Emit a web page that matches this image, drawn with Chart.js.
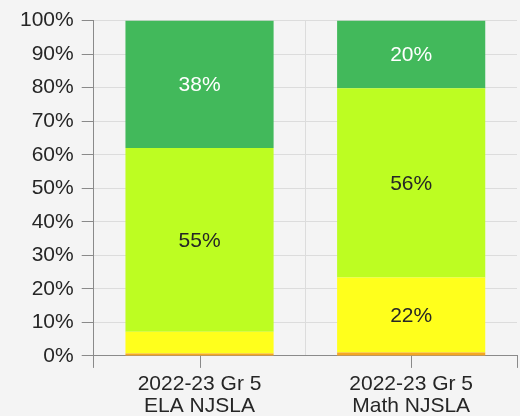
<!DOCTYPE html>
<html>
<head>
<meta charset="utf-8">
<script src="https://cdn.jsdelivr.net/npm/chart.js@4"></script>
<style>
  html, body { margin: 0; padding: 0; background: #f4f4f4; }
  #wrap { width: 520px; height: 416px; position: relative; }
</style>
</head>
<body>
<div id="wrap"><canvas id="c"></canvas></div>
<script>
const categories = [['2022-23 Gr 5', 'ELA NJSLA'], ['2022-23 Gr 5', 'Math NJSLA']];
const level1 = [0.7, 1.0];    // orange (bottom)
const level2 = [6.5, 22.4];   // yellow
const level3 = [54.8, 56.4];  // yellow-green
const level4 = [38.0, 20.2];  // green (top)
const yTicks = [0, 10, 20, 30, 40, 50, 60, 70, 80, 90, 100];

const FONT = "'Liberation Sans', Arial, sans-serif";
const TEXT = '#262626';
const AXIS = '#8a8a8a';
const GRID = '#dcdcdc';

const labelPlugin = {
  id: 'segLabels',
  afterDatasetsDraw(chart) {
    const ctx = chart.ctx;
    ctx.save();
    ctx.font = '21px ' + FONT;
    ctx.textAlign = 'center';
    ctx.textBaseline = 'middle';
    chart.data.datasets.forEach((ds, di) => {
      const meta = chart.getDatasetMeta(di);
      meta.data.forEach((bar, i) => {
        const v = ds.data[i];
        if (v < 10) return;
        const top = Math.min(bar.y, bar.base), bot = Math.max(bar.y, bar.base);
        ctx.fillStyle = ds.labelColor;
        ctx.fillText(Math.round(v) + '%', bar.x, (top + bot) / 2 + 1);
      });
    });
    ctx.restore();
  }
};

const centerTicks = {
  id: 'centerTicks',
  afterDraw(chart) {
    const sx = chart.scales.x;
    const ctx = chart.ctx;
    ctx.save();
    ctx.strokeStyle = AXIS;
    ctx.lineWidth = 1;
    sx.ticks.forEach((t, i) => {
      const x = Math.round(sx.getPixelForTick(i)) + 0.5;
      ctx.beginPath();
      ctx.moveTo(x, sx.top);
      ctx.lineTo(x, sx.top + 12);
      ctx.stroke();
    });
    ctx.restore();
  }
};

new Chart(document.getElementById('c'), {
  type: 'bar',
  data: {
    labels: categories,
    datasets: [
      { data: level1, backgroundColor: '#f5a623', labelColor: TEXT },
      { data: level2, backgroundColor: '#ffff1c', labelColor: TEXT },
      { data: level3, backgroundColor: '#bdfd22', labelColor: TEXT },
      { data: level4, backgroundColor: '#42b95b', labelColor: '#ffffff' }
    ]
  },
  options: {
    responsive: true,
    maintainAspectRatio: false,
    animation: false,
    layout: { padding: { top: 5, right: 3, left: 12, bottom: -6 } },
    plugins: { legend: { display: false }, tooltip: { enabled: false } },
    datasets: { bar: { barPercentage: 0.7, categoryPercentage: 1.0, borderWidth: 0 } },
    scales: {
      x: {
        stacked: true,
        offset: true,
        grid: {
          offset: true,
          drawOnChartArea: true,
          color: (c) => (c.index === 1 ? GRID : 'transparent'),
          tickColor: (c) => (c.index === 1 ? 'transparent' : AXIS),
          tickLength: 12
        },
        border: { display: true, color: AXIS },
        ticks: {
          color: TEXT,
          font: { family: FONT, size: 21, lineHeight: 1.05 },
          padding: 5,
          maxRotation: 0,
          autoSkip: false
        }
      },
      y: {
        stacked: true,
        min: 0,
        max: 100,
        afterBuildTicks: (s) => { s.ticks = yTicks.map(v => ({ value: v })); },
        grid: { color: GRID, tickColor: AXIS, tickLength: 12 },
        border: { display: true, color: AXIS },
        ticks: {
          color: TEXT,
          font: { family: FONT, size: 21 },
          padding: 8,
          callback: (v) => v + '%'
        }
      }
    }
  },
  plugins: [labelPlugin, centerTicks]
});
</script>
</body>
</html>
